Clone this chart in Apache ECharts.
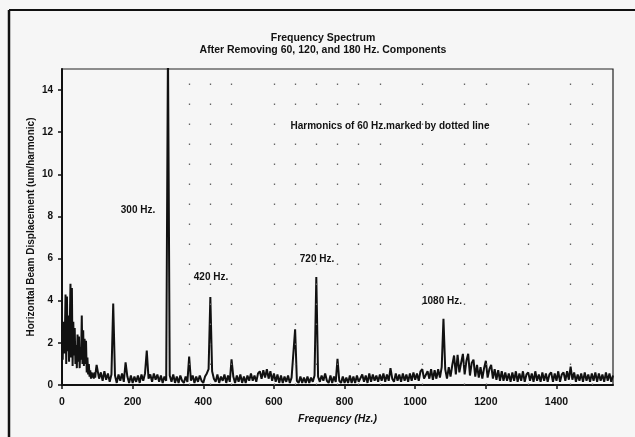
<!DOCTYPE html>
<html>
<head>
<meta charset="utf-8">
<script src="https://cdn.jsdelivr.net/npm/echarts@6/dist/echarts.min.js"></script>
<style>
html,body{margin:0;padding:0;background:#f6f6f6;}
#chart{width:635px;height:437px;}
</style>
</head>
<body>
<div id="chart"></div>
<script>
// Low band: amplitude (um/harmonic) every 2 Hz from 0 to 98 Hz
const LOW_STEP = 2;
const lowBandAmp = [
  2.6, 1.2, 3.0, 1.5, 2.2, 4.3, 1.0, 4.2, 1.6, 3.3, 1.1, 2.8, 4.8, 1.3, 4.6, 0.9, 3.0, 1.4, 2.7, 1.0,
  1.9, 0.8, 2.4, 1.1, 2.3, 0.8, 1.8, 1.2, 3.3, 1.0, 2.6, 0.9, 2.2, 1.0, 2.1, 0.6, 1.3, 0.5, 1.0, 0.4,
  0.7, 0.3, 0.6, 0.35, 0.55, 0.3, 0.6, 0.35, 0.7, 0.95
];
// Main band: amplitude every 5 Hz from 100 to 1560 Hz
const MAIN_START = 100;
const MAIN_STEP = 5;
const amplitude = [
  // 100 - 300
  0.9, 0.3, 0.6, 0.2, 0.65, 0.25, 0.55, 0.15, 0.5, 3.87, 0.45, 0.1, 0.5, 0.2, 0.55, 0.15, 1.07, 0.4, 0.1, 0.45,
  0.1, 0.4, 0.15, 0.45, 0.1, 0.5, 0.2, 0.55, 1.63, 0.3, 0.5, 0.15, 0.55, 0.25, 0.5, 0.15, 0.45, 0.1, 0.4, 0.2, 16,
  // 305 - 500
  0.45, 0.15, 0.5, 0.1, 0.4, 0.1, 0.45, 0.2, 0.1, 0.4, 0.15, 1.35, 0.2, 0.45, 0.1, 0.4, 0.15, 0.45, 0.2, 0.1,
  0.4, 0.55, 0.75, 4.18, 0.65, 0.3, 0.15, 0.5, 0.1, 0.4, 0.2, 0.5, 0.1, 0.45, 0.15, 1.22, 0.4, 0.1, 0.45, 0.15,
  // 505 - 700
  0.5, 0.1, 0.4, 0.1, 0.45, 0.2, 0.55, 0.2, 0.45, 0.15, 0.55, 0.65, 0.3, 0.7, 0.35, 0.75, 0.3, 0.65, 0.2, 0.55,
  0.15, 0.5, 0.1, 0.45, 0.1, 0.4, 0.15, 0.45, 0.1, 0.35, 0.4, 2.64, 0.2, 0.1, 0.4, 0.1, 0.35, 0.1, 0.4, 0.1,
  // 705 - 900
  0.35, 0.15, 0.45, 5.12, 0.4, 0.15, 0.45, 0.2, 0.55, 0.2, 0.1, 0.45, 0.1, 0.4, 0.15, 1.24, 0.2, 0.1, 0.4, 0.1,
  0.35, 0.1, 0.45, 0.1, 0.4, 0.1, 0.45, 0.15, 0.1, 0.5, 0.15, 0.45, 0.1, 0.55, 0.15, 0.5, 0.2, 0.45, 0.15, 0.5,
  // 905 - 1100
  0.2, 0.55, 0.15, 0.5, 0.2, 0.8, 0.3, 0.15, 0.55, 0.2, 0.5, 0.15, 0.55, 0.2, 0.5, 0.15, 0.55, 0.2, 0.6, 0.25,
  0.55, 0.2, 0.65, 0.75, 0.3, 0.25, 0.65, 0.3, 0.75, 0.25, 0.7, 0.3, 0.75, 0.35, 0.85, 3.14, 0.75, 0.3, 0.85, 0.4,
  // 1105 - 1300
  0.95, 1.4, 0.5, 1.43, 0.6, 1.05, 1.48, 0.5, 1.15, 1.48, 0.45, 1.05, 1.2, 0.4, 0.95, 0.35, 0.85, 0.3, 0.8, 1.15,
  0.35, 0.75, 0.96, 0.3, 0.75, 0.25, 0.7, 0.2, 0.65, 0.2, 0.6, 0.2, 0.55, 0.15, 0.6, 0.2, 0.65, 0.15, 0.55, 0.2,
  // 1305 - 1500
  0.65, 0.15, 0.5, 0.6, 0.2, 0.55, 0.15, 0.65, 0.2, 0.5, 0.15, 0.6, 0.2, 0.55, 0.15, 0.5, 0.6, 0.15, 0.55, 0.2,
  0.65, 0.15, 0.5, 0.6, 0.2, 0.65, 0.25, 0.87, 0.25, 0.6, 0.15, 0.5, 0.2, 0.55, 0.15, 0.6, 0.2, 0.5, 0.15, 0.55,
  // 1505 - 1560
  0.2, 0.6, 0.15, 0.55, 0.2, 0.5, 0.15, 0.6, 0.2, 0.55, 0.15, 0.45
];
// 60 Hz harmonics marked by dotted lines
const harmonics = [360, 420, 480, 600, 660, 720, 780, 840, 900, 1020, 1140, 1200, 1320, 1440, 1500];
// Peak annotations: [text, left px, top px]
const peakLabels = [
  ['300 Hz.', 138, 210],
  ['420 Hz.', 211, 277],
  ['720 Hz.', 317, 259],
  ['1080 Hz.', 442, 301]
];
const titleLines = ['Frequency Spectrum', 'After Removing 60, 120, and 180 Hz. Components'];
const noteText = 'Harmonics of 60 Hz.marked by dotted line';
const xName = 'Frequency (Hz.)';
const yName = 'Horizontal Beam Displacement (um/harmonic)';

const FONT = '"Liberation Sans", Arial, sans-serif';
const seriesData = lowBandAmp.map((v, i) => [i * LOW_STEP, v])
  .concat(amplitude.map((v, i) => [MAIN_START + i * MAIN_STEP, v]));

const chart = echarts.init(document.getElementById('chart'), null, {renderer: 'canvas'});
const graphics = [
  {type: 'line', shape: {x1: 9, y1: 10, x2: 635, y2: 10}, style: {stroke: '#111', lineWidth: 2}, silent: true},
  {type: 'line', shape: {x1: 9, y1: 10, x2: 9, y2: 437}, style: {stroke: '#111', lineWidth: 2.5}, silent: true}
];
peakLabels.forEach(p => {
  graphics.push({type: 'text', x: p[1], y: p[2], silent: true,
    style: {text: p[0], fill: '#111', font: 'bold 10px ' + FONT, textAlign: 'center', textVerticalAlign: 'middle'}});
});
graphics.push({type: 'text', x: 390, y: 126, silent: true,
  style: {text: noteText, fill: '#111', font: 'bold 10px ' + FONT, textAlign: 'center', textVerticalAlign: 'middle'}});

chart.setOption({
  backgroundColor: '#f6f6f6',
  animation: false,
  title: {
    text: titleLines.join('\n'),
    left: 318, textAlign: 'center', top: 27,
    textStyle: {fontFamily: FONT, fontSize: 10.5, fontWeight: 'bold', color: '#111', lineHeight: 12}
  },
  grid: {left: 62, right: 22, top: 69, bottom: 52, show: true, borderColor: '#222', borderWidth: 1.2, backgroundColor: 'transparent'},
  xAxis: {
    type: 'value', min: 0, max: 1560, interval: 200,
    name: xName, nameLocation: 'middle', nameGap: 29, nameMoveOverlap: false,
    nameTextStyle: {fontFamily: FONT, fontSize: 10.5, fontWeight: 'bold', fontStyle: 'italic', color: '#111'},
    axisLine: {lineStyle: {color: '#111', width: 2}},
    axisTick: {length: 4, lineStyle: {color: '#111', width: 1.5}},
    axisLabel: {fontFamily: FONT, fontSize: 10.5, fontWeight: 'bold', color: '#111', margin: 12,
      showMaxLabel: false, formatter: v => String(v)},
    splitLine: {show: false}
  },
  yAxis: {
    type: 'value', min: 0, max: 15, interval: 2,
    name: yName, nameLocation: 'middle', nameGap: 26, nameMoveOverlap: false,
    nameTextStyle: {fontFamily: FONT, fontSize: 10, fontWeight: 'bold', color: '#111'},
    axisLine: {show: true, lineStyle: {color: '#111', width: 2}},
    axisTick: {show: true, length: 4, lineStyle: {color: '#111', width: 1.5}},
    axisLabel: {fontFamily: FONT, fontSize: 10, fontWeight: 'bold', color: '#111', margin: 9,
      showMaxLabel: false},
    splitLine: {show: false}
  },
  series: [{
    type: 'line',
    data: seriesData,
    showSymbol: false,
    clip: true,
    lineStyle: {color: '#111', width: 2},
    markLine: {
      silent: true, symbol: 'none', label: {show: false},
      lineStyle: {type: [1.5, 18.5], color: '#666', width: 1.3},
      data: harmonics.map(h => ({xAxis: h}))
    }
  }],
  graphic: graphics
});
</script>
</body>
</html>
